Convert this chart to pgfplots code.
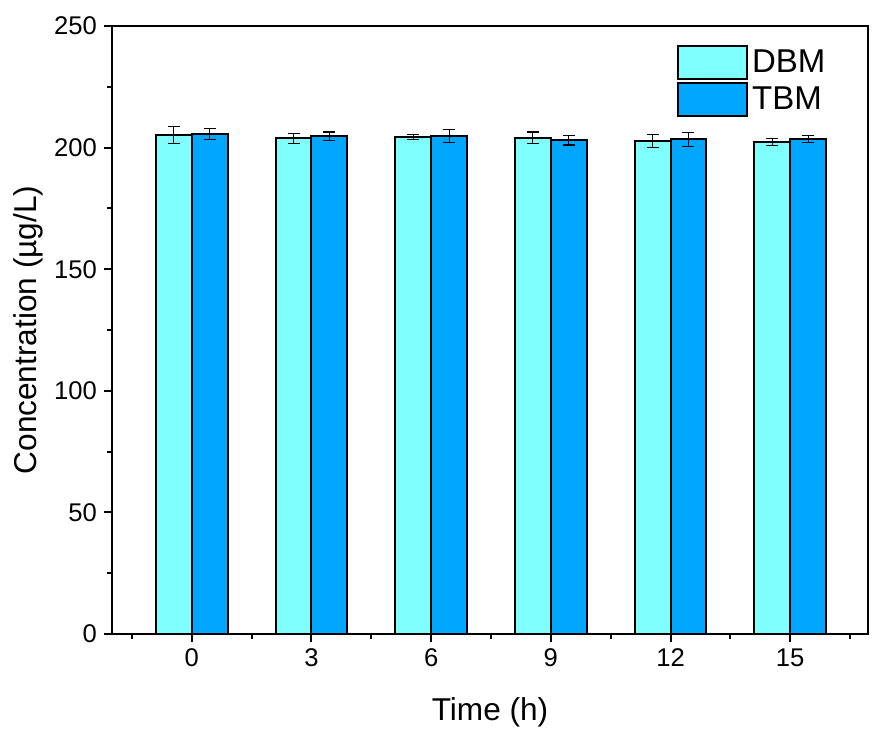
\documentclass[border=0pt]{standalone}
\usepackage{fontspec}
\setmainfont{Liberation Sans}
\usepackage{pgfplots}
\pgfplotsset{compat=1.18}
\definecolor{dbm}{RGB}{128,255,255}
\definecolor{tbm}{RGB}{0,166,255}
\begin{document}
\begin{tikzpicture}
\begin{axis}[
  width=378pt, height=304pt, scale only axis,
  xmin=-2, xmax=16.95, ymin=0, ymax=250,
  xtick={0,3,6,9,12,15},
  minor xtick={-1.5,1.5,4.5,7.5,10.5,13.5,16.5},
  ytick={0,50,100,150,200,250},
  minor ytick={25,75,125,175,225},
  xtick pos=bottom, ytick pos=left, tick align=outside,
  major tick length=4pt, minor tick length=2.5pt,
  axis line style={line width=1pt}, every tick/.style={black, line width=1pt},
  tick label style={font=\fontsize{12.8}{15}\selectfont},
  /pgf/number format/assume math mode=true,
  xlabel={Time (h)}, ylabel={Concentration (µg/L)},
  label style={font=\fontsize{15.8}{18}\selectfont},
  xlabel style={at={(axis description cs:0.5,-0.128)}, anchor=center},
  ylabel style={at={(axis description cs:-0.111,0.5)}, anchor=center},
  ybar, bar width=0.9,
  legend style={at={(axis description cs:0.747,0.969)}, anchor=north west, draw=none, fill=none,
    font=\fontsize{16.5}{19}\selectfont, inner sep=0pt, row sep=1pt, legend cell align=left},
  legend image code/.code={\draw[#1] (0pt,-8.25pt) rectangle (34.5pt,8.25pt);},
  error bars/y dir=both, error bars/y explicit,
  error bars/error bar style={black, line width=0.6pt},
  error bars/error mark options={black, line width=0.6pt, mark size=3pt, rotate=90},
]
\addplot[fill=dbm, draw=black, line width=1pt, bar shift=-0.45] coordinates {
 (0,205.2) +- (0,3.6)
 (3,203.8) +- (0,2.0)
 (6,204.4) +- (0,1.0)
 (9,204.0) +- (0,2.4)
 (12,202.7) +- (0,2.7)
 (15,202.4) +- (0,1.4)
};
\addplot[fill=tbm, draw=black, line width=1pt, bar shift=0.45] coordinates {
 (0,205.5) +- (0,2.3)
 (3,204.6) +- (0,1.8)
 (6,204.8) +- (0,2.6)
 (9,203.1) +- (0,2.0)
 (12,203.4) +- (0,2.9)
 (15,203.6) +- (0,1.4)
};
\legend{DBM,TBM}
\end{axis}
\pgfresetboundingbox
\path[use as bounding box] (-56pt,-52pt) rectangle (380.5pt,317pt);
\end{tikzpicture}
\end{document}
